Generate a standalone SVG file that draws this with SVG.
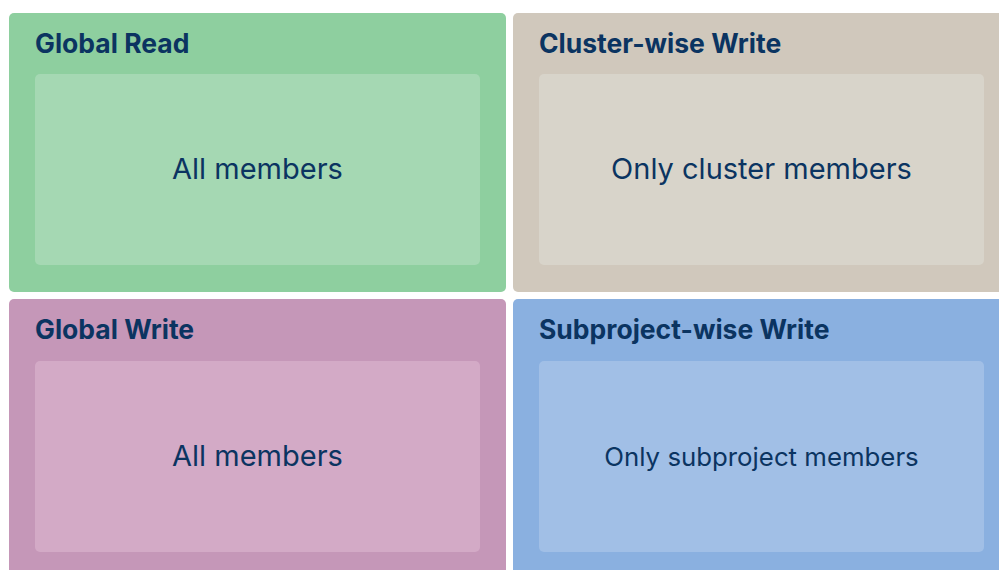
<svg xmlns="http://www.w3.org/2000/svg" width="999" height="570" viewBox="0 0 999 570">
  <style>
    .title { font-family: Inter, "Liberation Sans", sans-serif; font-weight: 700; font-size: 26.5px; fill: #0b3461; }
    .body { font-family: Inter, "Liberation Sans", sans-serif; font-weight: 400; font-size: 29px; fill: #0b3461; text-anchor: middle; }
    .small { font-size: 25.8px; }
  </style>
  <rect width="999" height="570" fill="#ffffff"/>
  <g id="global-read">
    <rect x="9" y="13" width="497" height="279" rx="5" fill="#8ecf9f"/>
    <rect x="35" y="74" width="445" height="191" rx="5" fill="#a5d8b3"/>
    <text class="title" x="35" y="52.5">Global Read</text>
    <text class="body" x="257.5" y="178.5">All members</text>
  </g>
  <g id="cluster-write">
    <rect x="513" y="13" width="497" height="279" rx="5" fill="#d0c8bc"/>
    <rect x="539" y="74" width="445" height="191" rx="5" fill="#d8d4ca"/>
    <text class="title" x="539" y="52.5">Cluster-wise Write</text>
    <text class="body" x="761.5" y="178.5">Only cluster members</text>
  </g>
  <g id="global-write">
    <rect x="9" y="299" width="497" height="279" rx="5" fill="#c597b8"/>
    <rect x="35" y="361" width="445" height="191" rx="5" fill="#d3aac6"/>
    <text class="title" x="35" y="338.5">Global Write</text>
    <text class="body" x="257.5" y="465.5">All members</text>
  </g>
  <g id="subproject-write">
    <rect x="513" y="299" width="497" height="279" rx="5" fill="#8ab0e0"/>
    <rect x="539" y="361" width="445" height="191" rx="5" fill="#a1bfe6"/>
    <text class="title" x="539" y="338.5">Subproject-wise Write</text>
    <text class="body small" x="761.5" y="465.5">Only subproject members</text>
  </g>
  <g id="connectors"/>
</svg>
